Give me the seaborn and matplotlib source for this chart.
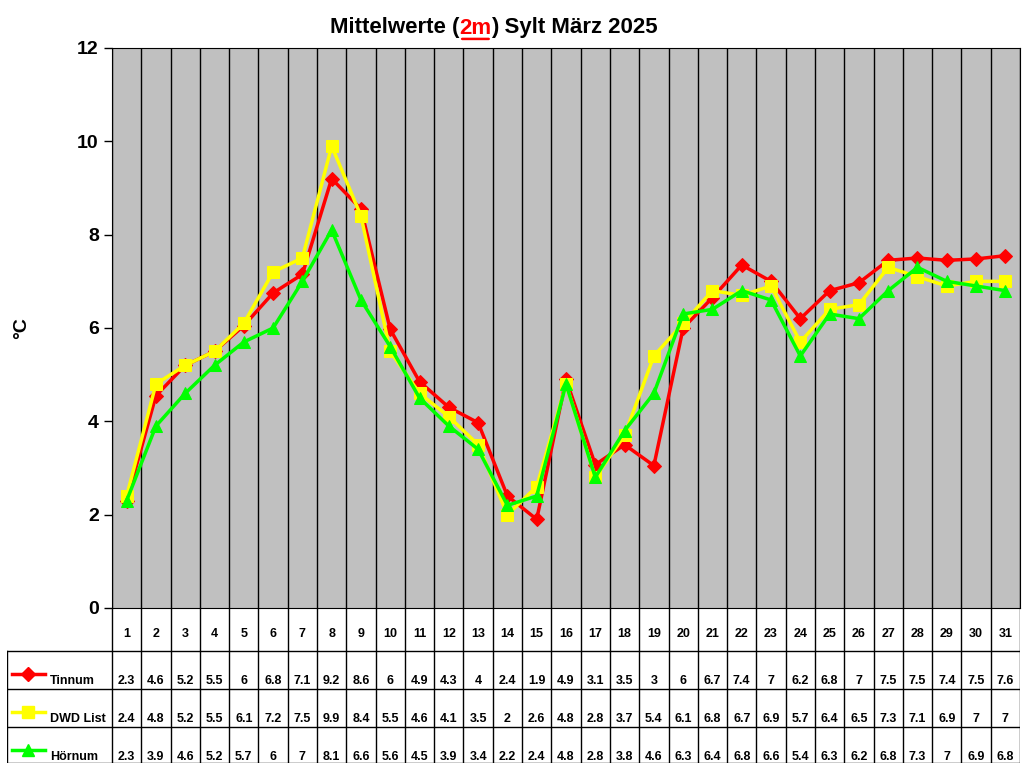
import numpy as np
import pandas as pd
import matplotlib
matplotlib.use("Agg")
import matplotlib.pyplot as plt
import seaborn as sns

plt.rcParams["font.family"] = ["Liberation Sans", "DejaVu Sans"]

# Daily mean temperatures (2m), Sylt, March 2025
days = list(range(1, 32))
tinnum = [2.3, 4.55, 5.2, 5.5, 6.05, 6.75, 7.15, 9.2, 8.55, 5.97, 4.85, 4.3, 3.97, 2.4, 1.9, 4.9,
          3.07, 3.5, 3.05, 6.0, 6.65, 7.35, 7.0, 6.2, 6.8, 6.97, 7.45, 7.5, 7.45, 7.48, 7.55]
dwd_list = [2.4, 4.8, 5.2, 5.5, 6.1, 7.2, 7.5, 9.9, 8.4, 5.5, 4.6, 4.1, 3.5, 2.0, 2.6, 4.8,
            2.8, 3.7, 5.4, 6.1, 6.8, 6.7, 6.9, 5.7, 6.4, 6.5, 7.3, 7.1, 6.9, 7.0, 7.0]
hoernum = [2.3, 3.9, 4.6, 5.2, 5.7, 6.0, 7.0, 8.1, 6.6, 5.6, 4.5, 3.9, 3.4, 2.2, 2.4, 4.8,
           2.8, 3.8, 4.6, 6.3, 6.4, 6.8, 6.6, 5.4, 6.3, 6.2, 6.8, 7.3, 7.0, 6.9, 6.8]

# values as printed in the data table
tinnum_tab = ["2.3", "4.6", "5.2", "5.5", "6", "6.8", "7.1", "9.2", "8.6", "6", "4.9", "4.3",
              "4", "2.4", "1.9", "4.9", "3.1", "3.5", "3", "6", "6.7", "7.4", "7", "6.2",
              "6.8", "7", "7.5", "7.5", "7.4", "7.5", "7.6"]
dwd_tab = ["2.4", "4.8", "5.2", "5.5", "6.1", "7.2", "7.5", "9.9", "8.4", "5.5", "4.6", "4.1",
           "3.5", "2", "2.6", "4.8", "2.8", "3.7", "5.4", "6.1", "6.8", "6.7", "6.9", "5.7",
           "6.4", "6.5", "7.3", "7.1", "6.9", "7", "7"]
hoernum_tab = ["2.3", "3.9", "4.6", "5.2", "5.7", "6", "7", "8.1", "6.6", "5.6", "4.5", "3.9",
               "3.4", "2.2", "2.4", "4.8", "2.8", "3.8", "4.6", "6.3", "6.4", "6.8", "6.6",
               "5.4", "6.3", "6.2", "6.8", "7.3", "7", "6.9", "6.8"]

series = [
    ("Tinnum", tinnum, tinnum_tab, "#FF0000", "D", 7),
    ("DWD List", dwd_list, dwd_tab, "#FFFF00", "s", 8),
    ("Hörnum", hoernum, hoernum_tab, "#00FF00", "^", 9),
]

df = pd.DataFrame({"Tag": days, "Tinnum": tinnum, "DWD List": dwd_list, "Hörnum": hoernum})
long_df = df.melt(id_vars="Tag", var_name="Station", value_name="Temp")

W, H = 1024, 768
fig = plt.figure(figsize=(W / 100, H / 100), dpi=100)
fig.patch.set_facecolor("white")

# main plot area
x0, x1, ytop, ybot = 112, 1020, 48, 608
ax = fig.add_axes([x0 / W, 1 - ybot / H, (x1 - x0) / W, (ybot - ytop) / H])
ax.set_facecolor("#C0C0C0")

for name, vals, tabv, col, mk, ms in series:
    sns.lineplot(data=long_df[long_df["Station"] == name], x="Tag", y="Temp", color=col,
                 marker=mk, markersize=ms, markeredgecolor=col, linewidth=2.5, ax=ax,
                 legend=False)

for b in np.arange(0.5, 31.6, 1):
    ax.axvline(b, color="black", lw=1, zorder=0.5)
ax.set_xlim(0.5, 31.5)
ax.set_ylim(0, 12)
ax.set_yticks(range(0, 13, 2))
ax.set_yticklabels([str(v) for v in range(0, 13, 2)], fontsize=14, fontweight="bold")
ax.tick_params(axis="y", length=6, width=1, direction="out")
ax.set_xticks([])
ax.set_xlabel("")
ax.set_ylabel("")
for s in ax.spines.values():
    s.set_color("black")
fig.text(22 / W, 1 - 328 / H, "°C", fontsize=14, fontweight="bold", rotation=90,
         ha="center", va="center")

# title with red underlined "2m"
t1 = fig.text(330 / W, 1 - 28 / H, "Mittelwerte (", fontsize=16, fontweight="bold",
              ha="left", va="center")
t2 = ax.annotate("2m", xy=(1, 0), xycoords=t1, va="bottom", ha="left", fontsize=16,
                 fontweight="bold", color="#FF0000", annotation_clip=False)
t3 = ax.annotate(") Sylt März 2025", xy=(1, 0), xycoords=t2, va="bottom", ha="left",
                 fontsize=16, fontweight="bold", annotation_clip=False)
ax.annotate("", xy=(0, -0.02), xycoords=t2, xytext=(1, -0.02), textcoords=t2,
            arrowprops=dict(arrowstyle="-", color="#FF0000", lw=1.8), annotation_clip=False)

# data table below
tl, tr, tt, tb = 7, 1020, 608, 763
tab = fig.add_axes([tl / W, 1 - tb / H, (tr - tl) / W, (tb - tt) / H])
tab.set_xlim(tl, tr)
tab.set_ylim(tb, tt)
tab.axis("off")
cw = (x1 - x0) / 31
rows = [651, 689, 727, 763]
for i in range(32):
    xx = x0 + i * cw
    tab.plot([xx, xx], [tt, tb], color="black", lw=1)
for r in rows:
    tab.plot([tl, tr], [r, r], color="black", lw=1)
tab.plot([tl, tl], [rows[0], tb], color="black", lw=1)
for i, d in enumerate(days):
    tab.text(x0 + (i + 0.5) * cw, 634, str(d), ha="center", va="center", fontsize=9,
             fontweight="bold")
for j, (name, vals, tabv, col, mk, ms) in enumerate(series):
    ytxt = rows[j] + 30
    tab.plot([12, 45], [ytxt - 7, ytxt - 7], color=col, lw=2.5)
    tab.plot([28.5], [ytxt - 7], color=col, marker=mk, markersize=ms)
    tab.text(50, ytxt, name, ha="left", va="center", fontsize=9, fontweight="bold")
    for i, v in enumerate(tabv):
        tab.text(x0 + (i + 0.5) * cw, ytxt, v, ha="center", va="center",
                 fontsize=9, fontweight="bold")

fig.savefig("out.png", dpi=100)
